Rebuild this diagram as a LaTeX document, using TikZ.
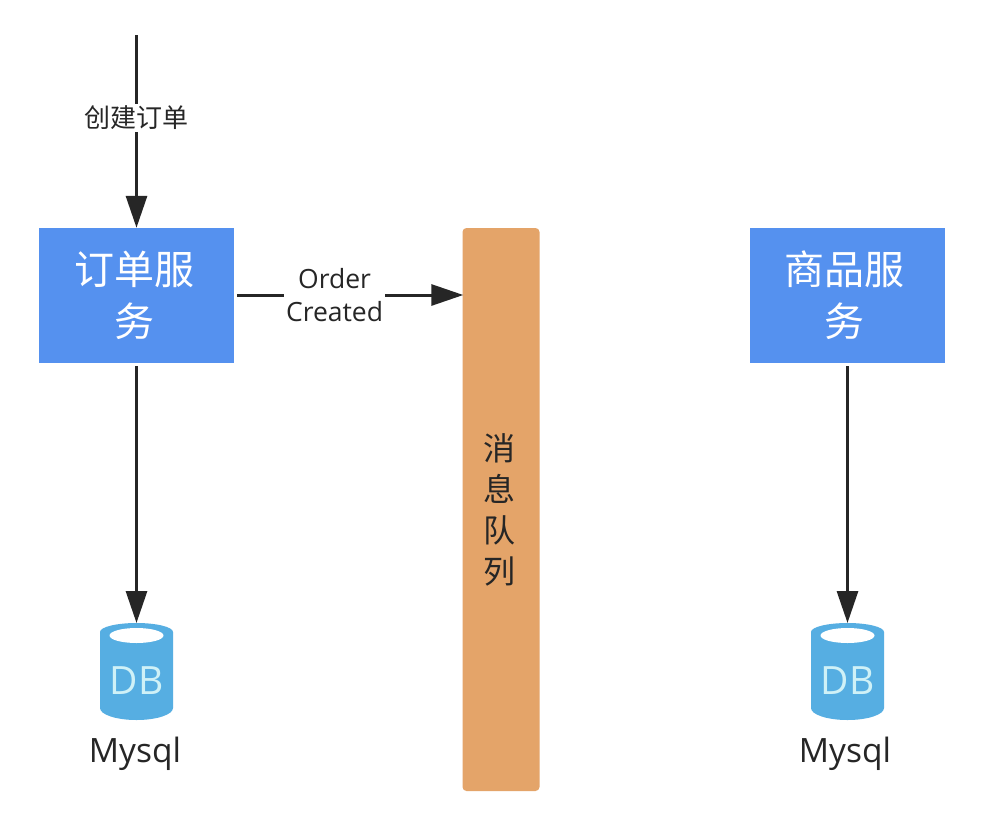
\documentclass[tikz,border=0pt]{standalone}
\usepackage{fontspec}
\setmainfont{Open Sans}
\newfontfamily\cjk{Noto Sans CJK SC}
\usetikzlibrary{shapes.geometric,arrows.meta,positioning}
\definecolor{svcblue}{HTML}{5591EF}
\definecolor{mqorange}{HTML}{E4A469}
\definecolor{dbblue}{HTML}{56AEE2}
\definecolor{dbtext}{HTML}{CFF1F7}
\definecolor{ink}{HTML}{262626}
\newcommand{\mvtxt}[3]{\raisebox{#2}{\kern#1 #3}}
\tikzset{
  service/.style={rectangle,fill=svcblue,minimum width=195pt,minimum height=135pt,inner sep=0pt,text=white,align=center,font=\cjk\fontsize{40pt}{52pt}\selectfont},
  queue/.style={rectangle,rounded corners=4pt,fill=mqorange,minimum width=77pt,minimum height=563pt,inner sep=0pt,align=center,text=ink,font=\cjk\fontsize{32pt}{41pt}\selectfont},
  dbbody/.style={rectangle,minimum width=73pt,minimum height=97pt,inner sep=0pt,outer sep=0pt},
  dbfill/.style={fill=dbblue},
  dbhole/.style={ellipse,fill=white,minimum width=54pt,minimum height=15pt,inner sep=0pt},
  dblabel/.style={text=dbtext,font=\fontsize{39pt}{39pt}\selectfont,inner sep=0pt},
  dbname/.style={text=ink,font=\fontsize{33.5pt}{36pt}\selectfont,inner sep=0pt},
  conn/.style={draw=ink,line width=3pt,-{Triangle[length=32pt,width=21pt]}},
  edgelabel/.style={fill=white,text=ink,align=center,inner sep=2pt},
}
\begin{document}
\begin{tikzpicture}[x=1pt,y=-1pt]
\useasboundingbox[fill=white] (0,0) rectangle (988,836);
\coordinate (start) at (136.5,35);
\node[service] (order) at (136.5,295.5) {\mvtxt{-4pt}{-2pt}{订单服}\\\mvtxt{-4pt}{-2pt}{务}};
\node[service] (goods) at (847.5,295.5) {\mvtxt{-6pt}{-2pt}{商品服}\\\mvtxt{-6pt}{-2pt}{务}};
\node[queue] (mq) at (501,509.5) {\mvtxt{-3pt}{-3pt}{消}\\\mvtxt{-3pt}{-3pt}{息}\\\mvtxt{-3pt}{-3pt}{队}\\\mvtxt{-3pt}{-3pt}{列}};
\node[dbbody] (db1) at (136.5,671.5) {};
\node[dbbody] (db2) at (847.5,671.5) {};
\foreach \d in {db1,db2}{
  \fill[dbfill] ([yshift=-9pt]\d.north west) arc[x radius=36.5,y radius=9,start angle=180,end angle=360]
     -- ([yshift=12pt]\d.south east) arc[x radius=36.5,y radius=12,start angle=0,end angle=180]
     -- cycle;
}
\node[dbhole] at (136.5,635.5) {};
\node[dbhole] at (847.5,635.5) {};
\node[dblabel] at (136.5,681) {DB};
\node[dblabel] at (847.5,681) {DB};
\node[dbname] (m1) at (135,754) {Mysql};
\node[dbname] (m2) at (845,754) {Mysql};
\draw[conn] (start) -- node[edgelabel,pos=0.43,font=\cjk\fontsize{26pt}{30pt}\selectfont] {创建订单} (order.north);
\coordinate (oe) at (order.east |- 0,295);
\coordinate (mw) at (mq.west |- 0,295);
\draw[conn,shorten <=3pt,shorten >=-1pt] (oe) -- node[edgelabel,pos=0.44,font=\fontsize{26.5pt}{33pt}\selectfont] {Order\\Created} (mw);
\draw[conn,shorten <=3pt] (order.south) -- (db1.north);
\draw[conn,shorten <=3pt] (goods.south) -- (db2.north);
\end{tikzpicture}
\end{document}
